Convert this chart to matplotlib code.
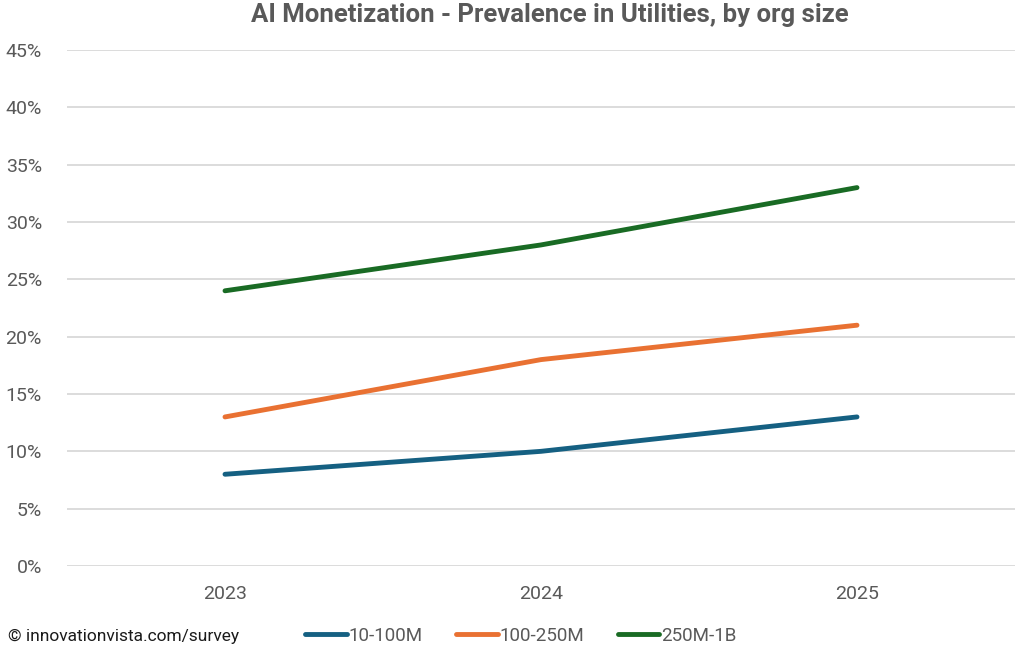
import matplotlib
matplotlib.use("Agg")
import matplotlib.pyplot as plt
from matplotlib.ticker import PercentFormatter

years = ["2023", "2024", "2025"]
series_names = ["10-100M", "100-250M", "250M-1B"]
s_small = [8, 10, 13]
s_mid = [13, 18, 21]
s_large = [24, 28, 33]
y_ticks = [0, 5, 10, 15, 20, 25, 30, 35, 40, 45]

colors = ["#156082", "#E97132", "#196B24"]
text_col = "#595959"

plt.rcParams['font.family'] = ['Roboto', 'DejaVu Sans']

fig = plt.figure(figsize=(10.24, 6.62), dpi=100)
ax = fig.add_axes([67/1024, 1 - 566/662, 948/1024, (566 - 50)/662])

x = list(range(len(years)))
for vals, name, c in zip([s_small, s_mid, s_large], series_names, colors):
    ax.plot(x, vals, color=c, lw=3.5, label=name, solid_capstyle='round')

ax.set_xlim(-0.5, len(years) - 0.5)
ax.set_ylim(0, 45)
ax.set_yticks(y_ticks)
ax.yaxis.set_major_formatter(PercentFormatter(decimals=0))
ax.set_xticks(x)
ax.set_xticklabels(years)
ax.grid(axis='y', color='#D9D9D9', lw=1.3)
ax.set_axisbelow(True)
for sp in ax.spines.values():
    sp.set_visible(False)
ax.tick_params(axis='both', length=0, labelsize=14, colors=text_col)
ax.tick_params(axis='y', pad=18)
ax.tick_params(axis='x', pad=14)

fig.text(0.537, 1 - 15/662, "AI Monetization - Prevalence in Utilities, by org size",
         ha='center', va='center', fontsize=18.5, fontweight='bold', color=text_col)

fig.text(8/1024, 1 - 636/662, "© innovationvista.com/survey", ha='left', va='center',
         fontsize=12.5, color='#1a1a1a')

leg = fig.legend(loc='center', bbox_to_anchor=(521/1024, 1 - 636/662), ncol=3,
                 frameon=False, fontsize=13.5, handlelength=2.2, handletextpad=0.1,
                 columnspacing=1.8, labelcolor=text_col)

fig.savefig("out.png", dpi=100)
